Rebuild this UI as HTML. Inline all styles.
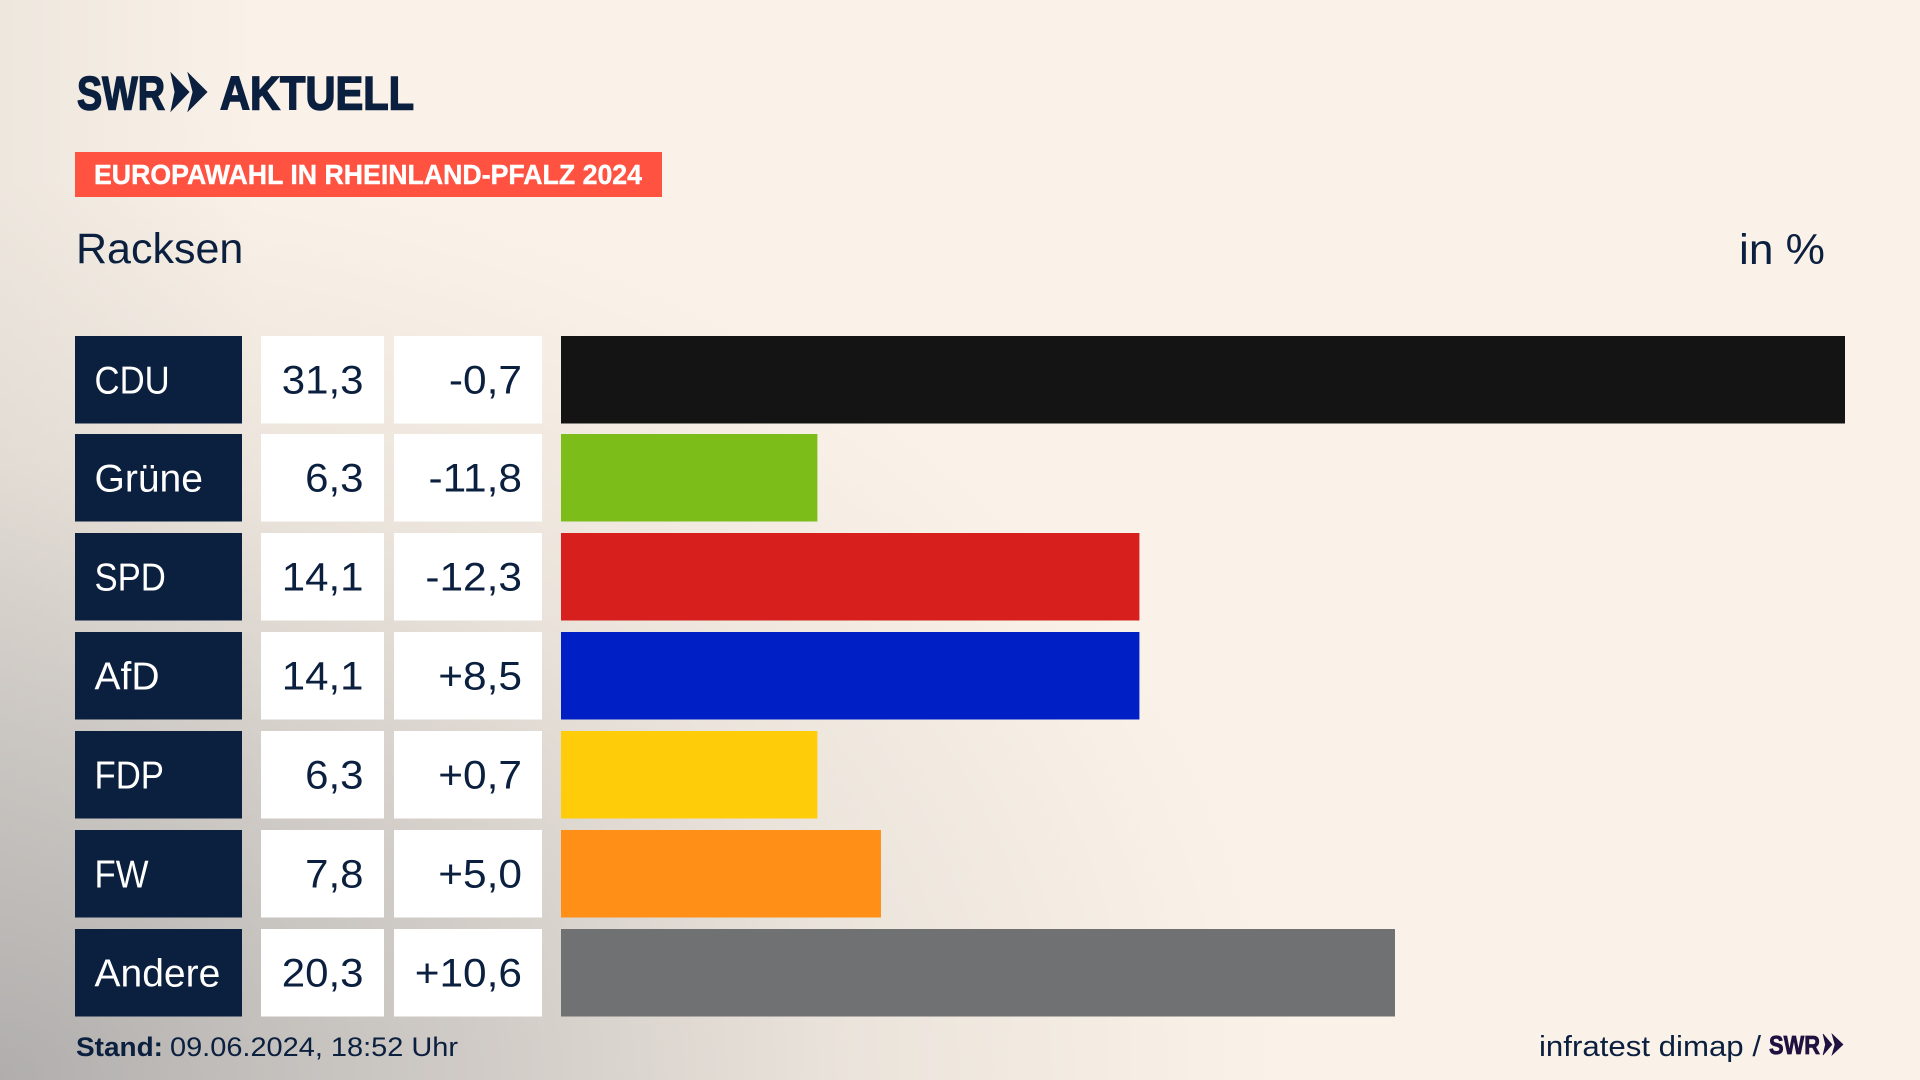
<!DOCTYPE html>
<html lang="de">
<head>
<meta charset="utf-8">
<title>Europawahl in Rheinland-Pfalz 2024 – Racksen</title>
<style>
html,body{margin:0;padding:0;width:1920px;height:1080px;overflow:hidden;background:#faf2e8}
#page{position:absolute;left:0;top:0;width:1920px;height:1080px;
background:
radial-gradient(ellipse 1380px 1000px at 0px 1080px,rgba(150,150,152,.70) 0%,rgba(170,168,168,.52) 35%,rgba(200,195,190,.3) 62%,rgba(240,232,222,.08) 90%,rgba(250,242,232,0) 100%),
linear-gradient(90deg,rgba(215,210,204,.35) 0,rgba(250,242,232,0) 260px),
#faf2e8}
svg{position:absolute;left:0;top:0;display:block}
text{font-family:"Liberation Sans",sans-serif;fill:#0b1f3f}
</style>
</head>
<body>
<div id="page">
<svg id="chart" width="1920" height="1080" viewBox="0 0 1920 1080" xmlns="http://www.w3.org/2000/svg">
  <g>
    <text x="77" y="109.5" font-size="47" font-weight="700" textLength="88" lengthAdjust="spacingAndGlyphs" stroke="#0b1f3f" stroke-width="1.5">SWR</text>
    <polygon points="171,73 189,92 171,111 175,92" fill="#0b1f3f" stroke="#0b1f3f" stroke-width=".8"/>
    <polygon points="188,73 207,92 188,111 193,92" fill="#0b1f3f" stroke="#0b1f3f" stroke-width=".8"/>
    <text x="220" y="109.5" font-size="47" font-weight="700" textLength="194" lengthAdjust="spacingAndGlyphs" stroke="#0b1f3f" stroke-width="1.5">AKTUELL</text>
  </g>
  <rect x="75" y="152" width="587" height="45" fill="#ff5240"/>
  <text x="94" y="184" font-size="27.5" font-weight="700" textLength="548" lengthAdjust="spacingAndGlyphs" stroke="#fff" stroke-width=".4" style="fill:#fff">EUROPAWAHL IN RHEINLAND-PFALZ 2024</text>
  <text x="76" y="263" font-size="43">Racksen</text>
  <text x="1739" y="264" font-size="43" textLength="86" lengthAdjust="spacingAndGlyphs">in %</text>
  <g id="rows"></g>
  <text x="76" y="1056" font-size="27" font-weight="700" textLength="87" lengthAdjust="spacingAndGlyphs">Stand:</text>
  <text x="170" y="1056" font-size="27" textLength="288" lengthAdjust="spacingAndGlyphs">09.06.2024, 18:52 Uhr</text>
  <text x="1539" y="1056" font-size="29" textLength="222" lengthAdjust="spacingAndGlyphs">infratest dimap /</text>
  <g>
    <text x="1769" y="1054" font-size="26" font-weight="700" textLength="51" lengthAdjust="spacingAndGlyphs" stroke="#1f1140" stroke-width=".8" style="fill:#1f1140">SWR</text>
    <polygon points="1823,1034 1832,1044.5 1823,1055 1825.5,1044.5" fill="#1f1140" stroke="#1f1140" stroke-width=".6"/>
    <polygon points="1832,1034 1843,1044.5 1832,1055 1835,1044.5" fill="#1f1140" stroke="#1f1140" stroke-width=".6"/>
  </g>
</svg>
</div>
<script>
const parties = ['CDU', 'Grüne', 'SPD', 'AfD', 'FDP', 'FW', 'Andere'];
const shares = [31.3, 6.25, 14.1, 14.1, 6.25, 7.8, 20.33];
const changes = [-0.7, -11.8, -12.3, 8.5, 0.7, 5.0, 10.6];
const partyColors = ['#141414', '#7cbd1a', '#d7201e', '#0020c6', '#ffcc0a', '#ff8f17', '#707172'];

const SVG_NS = 'http://www.w3.org/2000/svg';
const rowsGroup = document.getElementById('rows');
const xScale = v => v * (1284 / 31.3);
const rowTop = i => Math.floor(336.1 + i * 98.83);
const ROW_H = 87.5;
const fmtShare = v => v.toFixed(1).replace('.', ',');
const fmtChange = v => (v > 0 ? '+' : '') + v.toFixed(1).replace('.', ',');

function makeRect(x, y, w, h, fill) {
  const r = document.createElementNS(SVG_NS, 'rect');
  r.setAttribute('x', x);
  r.setAttribute('y', y);
  r.setAttribute('width', w);
  r.setAttribute('height', h);
  r.setAttribute('fill', fill);
  rowsGroup.appendChild(r);
  return r;
}
function makeText(x, y, str, anchor, fill, size, stretch) {
  const t = document.createElementNS(SVG_NS, 'text');
  t.setAttribute('x', x);
  t.setAttribute('y', y);
  t.setAttribute('font-size', size);
  t.setAttribute('text-anchor', anchor);
  t.style.fill = fill;
  t.textContent = str;
  rowsGroup.appendChild(t);
  t.setAttribute('textLength', t.getComputedTextLength() * stretch);
  t.setAttribute('lengthAdjust', 'spacingAndGlyphs');
  return t;
}

parties.forEach((party, i) => {
  const slug = party.toLowerCase().replace('ü', 'ue');
  const top = rowTop(i);
  const baseline = top + 57.5;
  const allCaps = party === party.toUpperCase();

  const labelBox = makeRect(75, top, 167, ROW_H, '#0b1f3f');
  
  

  const labelText = makeText(94.5, baseline, party, 'start', '#ffffff', 39, allCaps ? 0.89 : 1);
  
  

  const shareBox = makeRect(261, top, 123, ROW_H, '#ffffff');
  
  

  const shareText = makeText(363.5, baseline, fmtShare(shares[i]), 'end', '#0b1f3f', 40, 1.05);
  
  

  const changeBox = makeRect(394, top, 148, ROW_H, '#ffffff');
  
  

  const changeText = makeText(522, baseline, fmtChange(changes[i]), 'end', '#0b1f3f', 40, 1.06);
  
  

  const bar = makeRect(561, top, xScale(shares[i]), ROW_H, partyColors[i]);
  
  
});
</script>
</body>
</html>
